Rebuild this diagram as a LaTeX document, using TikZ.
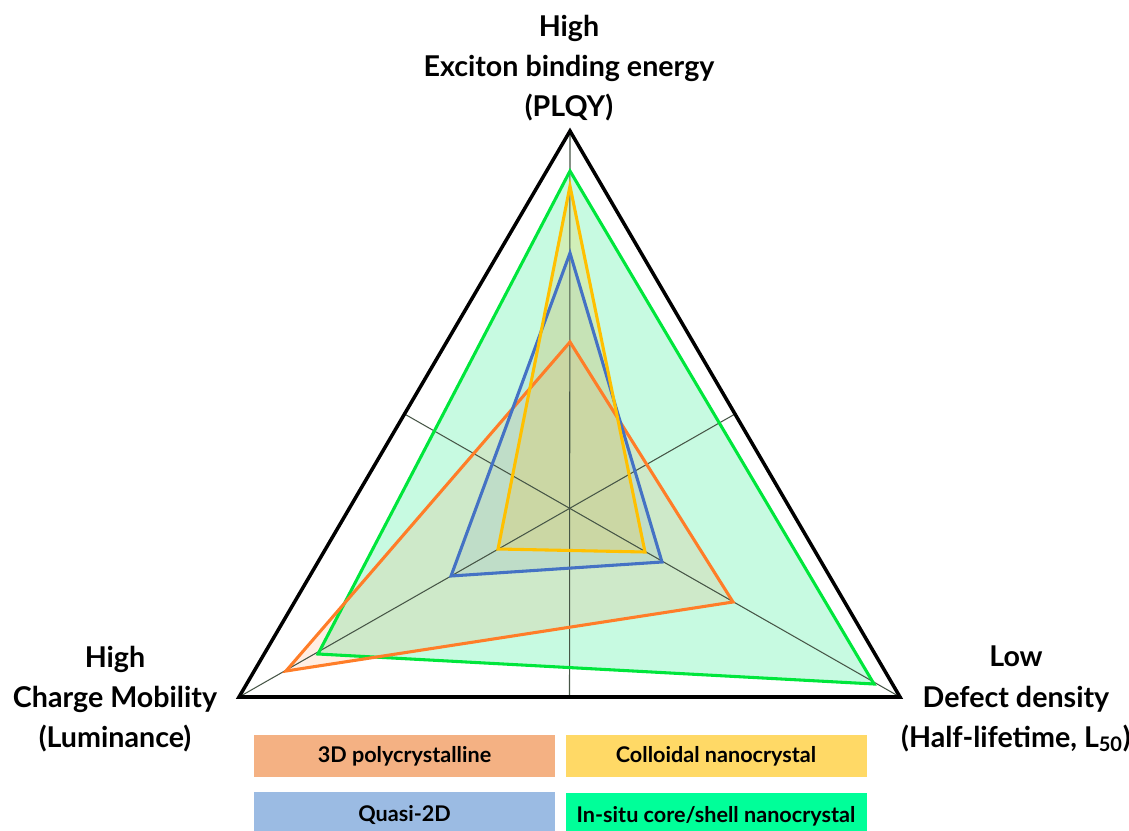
\documentclass[tikz,border=0pt]{standalone}
\usepackage{fontspec}
\setmainfont{Lato}
\usetikzlibrary{calc}
\begin{document}
\begin{tikzpicture}[x=0.02cm,y=-0.02cm,
  axislabel/.style={align=center,font=\fontsize{16.3}{22.8}\selectfont\bfseries,inner sep=0pt},
  legbox/.style={minimum width=301*0.02cm,minimum height=42*0.02cm,inner sep=0pt,font=\fontsize{12.3}{14}\selectfont\bfseries},
  median/.style={draw={rgb,255:red,70;green,85;blue,70},line width=0.6pt},
  series/.style={line width=1.75pt,line join=miter}]
\useasboundingbox (0,0) rectangle (1129,831);
\clip (0,0) rectangle (1129,831);
\definecolor{gline}{RGB}{0,230,60}
\definecolor{gfill}{RGB}{0,230,118}
\definecolor{oline}{RGB}{255,125,40}
\definecolor{bline}{RGB}{68,114,196}
\definecolor{yline}{RGB}{255,192,0}
\definecolor{legO}{RGB}{244,177,131}
\definecolor{legY}{RGB}{255,217,102}
\definecolor{legB}{RGB}{155,187,227}
\definecolor{legG}{RGB}{0,255,153}
% outer triangle
\coordinate (A) at (570,131);
\coordinate (B) at (239,697);
\coordinate (C) at (900,697);
\coordinate (mBC) at ($(B)!0.5!(C)$);
\coordinate (mAC) at ($(A)!0.5!(C)$);
\coordinate (mAB) at ($(A)!0.5!(B)$);
% data points
\coordinate (g1) at (570,171); \coordinate (g2) at (318,654); \coordinate (g3) at (874,684);
\coordinate (o1) at (570,342); \coordinate (o2) at (286,671); \coordinate (o3) at (733,602);
\coordinate (b1) at (570,253); \coordinate (b2) at (451,576); \coordinate (b3) at (662,562);
\coordinate (y1) at (570,186); \coordinate (y2) at (498,549); \coordinate (y3) at (645,552);
% fills
\fill[gfill,fill opacity=0.22] (g1)--(g2)--(g3)--cycle;
\fill[oline,fill opacity=0.13] (o1)--(o2)--(o3)--cycle;
\fill[bline,fill opacity=0.10] (b1)--(b2)--(b3)--cycle;
\fill[yline,fill opacity=0.18] (y1)--(y2)--(y3)--cycle;
% medians
\draw[median] (A)--(mBC);
\draw[median] (B)--(mAC);
\draw[median] (C)--(mAB);
% series outlines
\draw[series,gline] (g1)--(g2)--(g3)--cycle;
\draw[series,oline] (o1)--(o2)--(o3)--cycle;
\draw[series,bline] (b1)--(b2)--(b3)--cycle;
\draw[series,yline] (y1)--(y2)--(y3)--cycle;
% outer triangle
\draw[line width=2pt,line join=miter] (A)--(B)--(C)--cycle;
% axis labels
\node[axislabel] (lt) at (569,68) {High\\Exciton binding energy\\(PLQY)};
\node[axislabel] (ll) at (115,699) {High\\Charge Mobility\\(Luminance)};
\node[axislabel] (lr) at (1016,699) {Low\\Defect density\\(Half-lifetime, L\textsubscript{50})};
% legend
\node[legbox,fill=legO] (k1) at (404.5,756) {3D polycrystalline};
\node[legbox,fill=legY] (k2) at (716,756) {Colloidal nanocrystal};
\node[legbox,fill=legB,minimum height=46*0.02cm] (k3) at (404.5,815) {Quasi-2D};
\node[legbox,fill=legG,minimum height=46*0.02cm] (k4) at (716,816) {In-situ core/shell nanocrystal};
\end{tikzpicture}
\end{document}
